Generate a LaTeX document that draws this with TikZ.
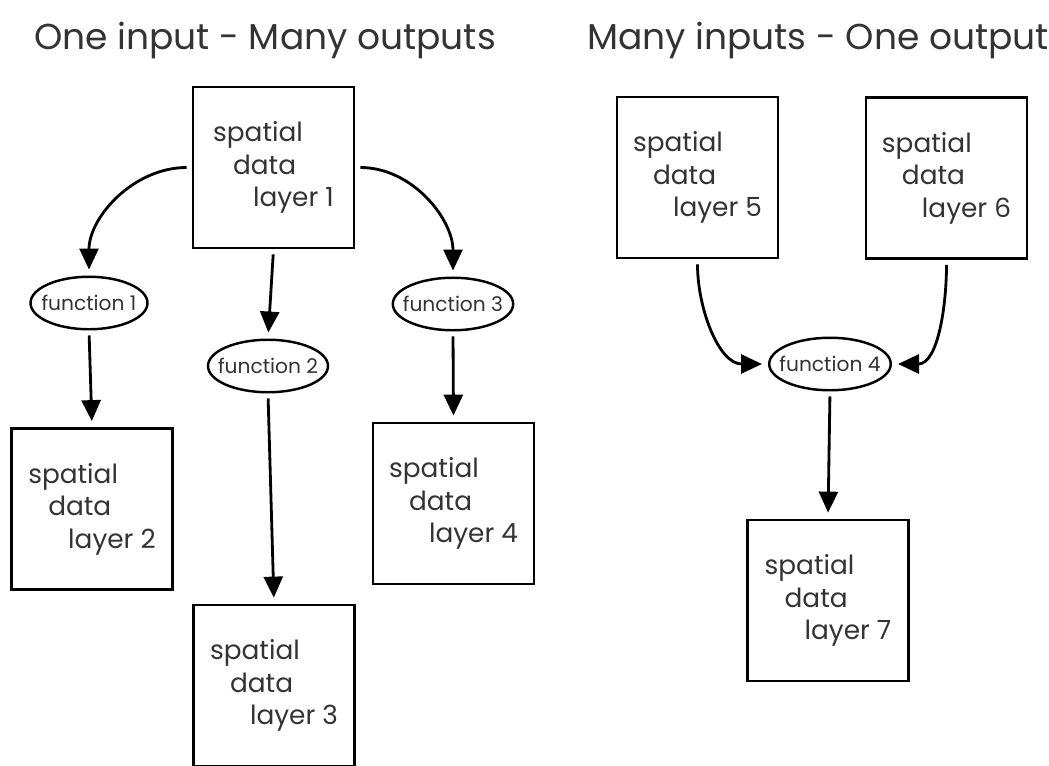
\documentclass[tikz,border=0pt]{standalone}
\usepackage{fontspec}
\setmainfont{Poppins}
\definecolor{ink}{HTML}{333333}
\usepackage{tikz}
\usetikzlibrary{positioning, shapes.geometric, arrows.meta}

\begin{document}
\begin{tikzpicture}[x=0.02cm, y=-0.02cm,
  layer/.style={draw=black, line width=1.6pt, minimum width=3.22cm,
                minimum height=3.22cm, align=left, font=\fontsize{15}{18.5}\selectfont,
                text=ink, inner sep=0pt},
  func/.style={draw=black, ellipse, line width=1.4pt, minimum width=2.34cm,
               minimum height=1.05cm, inner xsep=-4.3pt, inner ysep=0pt,
               font=\fontsize{11.5}{13}\selectfont, text=ink},
  title/.style={font=\fontsize{20.5}{24}\selectfont, text=ink},
  flow/.style={-{Triangle[length=0.42cm, width=0.38cm]}, line width=1.6pt,
               shorten <=0.1cm, shorten >=0.12cm},
]
\useasboundingbox (0,0) rectangle (1049,765);
\clip (0,0) rectangle (1049,765);

\node[title] (t1) at (265,40) {One input - Many outputs};
\node[title] (t2) at (818,40) {Many inputs - One output};

\node[layer] (l1) at (273.5,167.5) {spatial\\\hspace{0.4cm}data\\\hspace{0.8cm}layer 1};
\node[layer] (l2) at (92,509) {spatial\\\hspace{0.4cm}data\\\hspace{0.8cm}layer 2};
\node[layer] (l3) at (274,685.5) {spatial\\\hspace{0.4cm}data\\\hspace{0.8cm}layer 3};
\node[layer] (l4) at (453.5,503.5) {spatial\\\hspace{0.4cm}data\\\hspace{0.8cm}layer 4};
\node[layer] (l5) at (697.5,177.5) {spatial\\\hspace{0.4cm}data\\\hspace{0.8cm}layer 5};
\node[layer] (l6) at (946.5,178) {spatial\\\hspace{0.4cm}data\\\hspace{0.8cm}layer 6};
\node[layer] (l7) at (828,600.5) {spatial\\\hspace{0.4cm}data\\\hspace{0.8cm}layer 7};

\node[func] (f1) at (89,303) {function 1};
\node[func] (f2) at (268,366) {function 2};
\node[func] (f3) at (453,304) {function 3};
\node[func] (f4) at (830,364) {function 4};

\draw[flow] (l1.west) to[out=180, in=90] (f1.north);
\draw[flow] (l1.south) -- (f2.north);
\draw[flow] (l1.east) to[out=0, in=90] (f3.north);
\draw[flow] (f1.south) -- (l2.north);
\draw[flow] (f2.south) -- (l3.north);
\draw[flow] (f3.south) -- (l4.north);
\draw[flow] (l5.south) to[out=-90, in=180] (f4.west);
\draw[flow] (l6.south) to[out=-90, in=0] (f4.east);
\draw[flow] (f4.south) -- (l7.north);
\end{tikzpicture}
\end{document}
